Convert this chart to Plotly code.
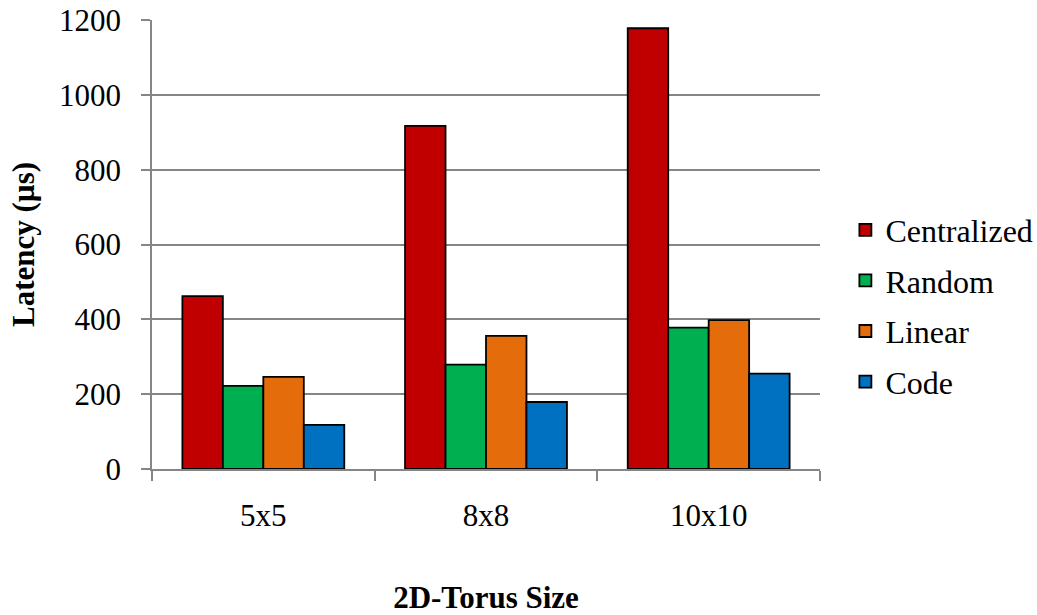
import plotly.graph_objects as go

categories = ["5x5", "8x8", "10x10"]
series_names = ["Centralized", "Random", "Linear", "Code"]
centralized = [462, 917, 1178]
random_vals = [222, 279, 378]
linear = [246, 356, 398]
code = [118, 179, 255]
colors = ["#C00000", "#00B050", "#E46C0A", "#0070C0"]
y_ticks = [0, 200, 400, 600, 800, 1000, 1200]

values = [centralized, random_vals, linear, code]
FONT = "Liberation Serif, Times New Roman, serif"

fig = go.Figure()
for name, vals, col in zip(series_names, values, colors):
    fig.add_trace(go.Bar(
        x=categories, y=vals, name=name, legendgroup=name,
        marker=dict(color=col, line=dict(color="black", width=1.8)),
    ))

fig.update_layout(
    width=1037, height=615,
    margin=dict(l=152, r=217, t=20, b=146, autoexpand=False),
    plot_bgcolor="white", paper_bgcolor="white",
    font=dict(family=FONT, size=31, color="black"),
    barmode="group", bargap=0.273, bargroupgap=0,
    showlegend=True,
    legend=dict(x=1.038, xanchor="left", y=0.363, yanchor="middle",
                font=dict(family=FONT, size=32, color="black"), tracegroupgap=6,
                bgcolor="rgba(0,0,0,0)"),
)
fig.update_xaxes(
    type="category", tickson="boundaries", ticks="outside", ticklen=10,
    tickcolor="#868686", tickwidth=1.5, automargin=False,
    tickfont=dict(family=FONT, size=31, color="black"),
    showline=True, linecolor="#868686", linewidth=1.5,
    showgrid=False, ticklabelstandoff=18,
    title=dict(text="<b>2D-Torus Size</b>", standoff=58,
               font=dict(family=FONT, size=31, color="black")),
)
fig.update_yaxes(
    range=[0, 1200], tickvals=y_ticks, ticks="outside", ticklen=9,
    tickcolor="#868686", tickwidth=1.5, automargin=False,
    tickfont=dict(family=FONT, size=31, color="black"),
    showline=True, linecolor="#868686", linewidth=1.5,
    showgrid=True, gridcolor="#868686", gridwidth=1.5,
    zeroline=False, ticklabelstandoff=14,
    title=dict(text="<b>Latency (µs)</b>", standoff=15,
               font=dict(family=FONT, size=31, color="black")),
)

fig.write_html("out.html", config={"displayModeBar": False},
               post_script="document.body.style.margin='0';document.body.style.padding='0';")
